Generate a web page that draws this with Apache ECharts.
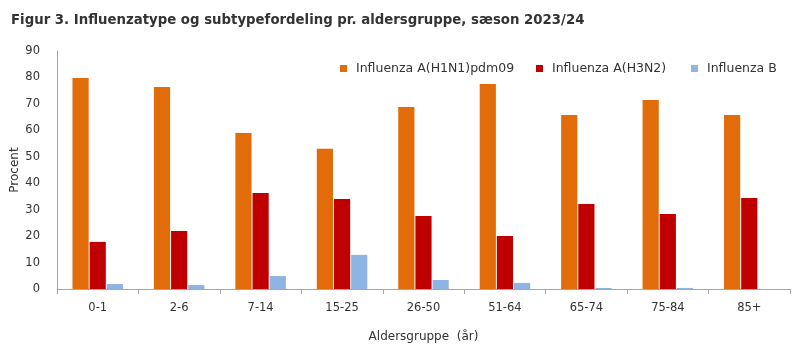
<!DOCTYPE html>
<html><head><meta charset="utf-8">
<script src="https://cdn.jsdelivr.net/npm/echarts@6/dist/echarts.min.js"></script>
<style>html,body{margin:0;padding:0;background:#fff}#c{width:800px;height:350px}</style>
</head><body><div id="c"></div>
<script>
const categories = ['0-1','2-6','7-14','15-25','26-50','51-64','65-74','75-84','85+'];
const h1n1 = [79.8, 76.4, 59.0, 53.0, 68.8, 77.5, 65.8, 71.5, 65.8];
const h3n2 = [17.8, 21.9, 36.3, 34.0, 27.6, 20.0, 32.1, 28.4, 34.4];
const fluB = [1.9, 1.5, 4.9, 12.9, 3.4, 2.3, 0.4, 0.4, 0];
const seriesNames = ['Influenza A(H1N1)pdm09','Influenza A(H3N2)','Influenza B'];
const yTicks = [0,10,20,30,40,50,60,70,80,90];
const colors = ['#E36C0A','#C00000','#8EB4E3'];
const font = '"DejaVu Sans", sans-serif';
const legendLefts = [335, 531, 686];
const chart = echarts.init(document.getElementById('c'), null, {renderer:'canvas'});
chart.setOption({
  animation:false,
  title:{text:'Figur 3. Influenzatype og subtypefordeling pr. aldersgruppe, sæson 2023/24', left:6, top:9,
    textStyle:{fontFamily:font, fontSize:13.3, fontWeight:'bold', color:'#333'}},
  legend: seriesNames.map((n,i)=>({data:[n], left:legendLefts[i], top:57, itemWidth:7, itemHeight:7, itemGap:10, icon:'rect',
    textStyle:{fontFamily:font, fontSize:12.5, color:'#333', padding:[0,0,0,4]}})),
  grid:{left:57, right:10, top:51, bottom:61, outerBoundsMode:'none', containLabel:false},
  xAxis:{type:'category', data:categories, name:'Aldersgruppe  (år)', nameLocation:'middle', nameGap:42,
    nameTextStyle:{fontFamily:font, fontSize:12, color:'#333'},
    axisLine:{lineStyle:{color:'#a6a6a6'}}, axisTick:{show:true, length:5, lineStyle:{color:'#a6a6a6'}},
    axisLabel:{fontFamily:font, fontSize:11.5, color:'#333', margin:13}},
  yAxis:{type:'value', min:0, max:90, interval:10, name:'Procent', nameLocation:'middle', nameGap:36, nameMoveOverlap:false,
    nameTextStyle:{fontFamily:font, fontSize:12, color:'#333'},
    axisLine:{show:true, lineStyle:{color:'#a6a6a6'}}, axisTick:{show:false}, splitLine:{show:false},
    axisLabel:{fontFamily:font, fontSize:11.5, color:'#333', margin:17,
      formatter:v=>yTicks.includes(v)?String(v):''}},
  series:[
    {name:seriesNames[0], type:'bar', data:h1n1, itemStyle:{color:colors[0]}, barGap:'6%', barCategoryGap:'38%'},
    {name:seriesNames[1], type:'bar', data:h3n2, itemStyle:{color:colors[1]}, barGap:'6%', barCategoryGap:'38%'},
    {name:seriesNames[2], type:'bar', data:fluB, itemStyle:{color:colors[2]}, barGap:'6%', barCategoryGap:'38%'}
  ]
});
</script></body></html>
